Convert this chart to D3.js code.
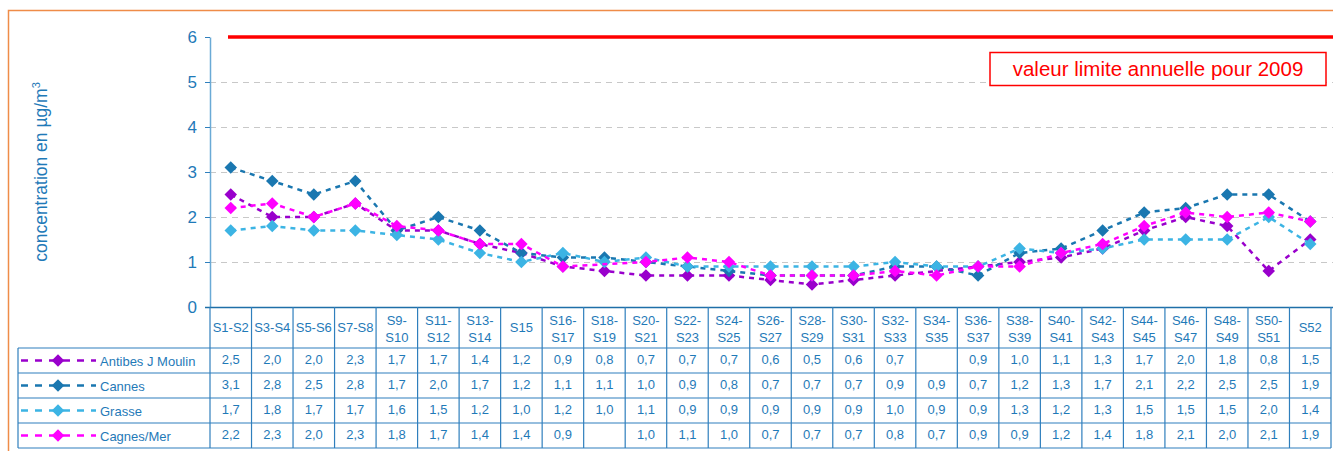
<!DOCTYPE html>
<html>
<head>
<meta charset="utf-8">
<script src="https://cdn.jsdelivr.net/npm/d3@7"></script>
<style>
  body { margin: 0; background: #fff; }
  svg { font-family: "Liberation Sans", Arial, sans-serif; }
</style>
</head>
<body>
<div id="chart"></div>
<script>

const periods = ["S1-S2","S3-S4","S5-S6","S7-S8","S9-S10","S11-S12","S13-S14","S15","S16-S17","S18-S19",
	"S20-S21","S22-S23","S24-S25","S26-S27","S28-S29","S30-S31","S32-S33","S34-S35","S36-S37","S38-S39",
	"S40-S41","S42-S43","S44-S45","S46-S47","S48-S49","S50-S51","S52"];

const antibes = [2.5,2.0,2.0,2.3,1.7,1.7,1.4,1.2,0.9,0.8,0.7,0.7,0.7,0.6,0.5,0.6,0.7,null,0.9,1.0,1.1,1.3,1.7,2.0,1.8,0.8,1.5];
const cannes  = [3.1,2.8,2.5,2.8,1.7,2.0,1.7,1.2,1.1,1.1,1.0,0.9,0.8,0.7,0.7,0.7,0.9,0.9,0.7,1.2,1.3,1.7,2.1,2.2,2.5,2.5,1.9];
const grasse  = [1.7,1.8,1.7,1.7,1.6,1.5,1.2,1.0,1.2,1.0,1.1,0.9,0.9,0.9,0.9,0.9,1.0,0.9,0.9,1.3,1.2,1.3,1.5,1.5,1.5,2.0,1.4];
const cagnes  = [2.2,2.3,2.0,2.3,1.8,1.7,1.4,1.4,0.9,null,1.0,1.1,1.0,0.7,0.7,0.7,0.8,0.7,0.9,0.9,1.2,1.4,1.8,2.1,2.0,2.1,1.9];

const seriesNames = ["Antibes J Moulin","Cannes","Grasse","Cagnes/Mer"];
const seriesColors = ["#9900cc","#1a77b0","#3cb4e4","#ff00ff"];
const yTicks = [0,1,2,3,4,5,6];
const limitValue = 6;
const limitLabel = "valeur limite annuelle pour 2009";

const series = [antibes, cannes, grasse, cagnes].map((v,i) => ({
	name: seriesNames[i], color: seriesColors[i], values: v
}));

const W = 1333, H = 451;
const m = {t:37, r:2, b:144, l:210};
const tableColor = "#2f7fbd";
const textColor = "#1f7ab8";

const svg = d3.select("#chart").append("svg")
	.attr("width", W)
	.attr("height", H);

// frame
svg.append("rect")
	.attr("x", 8.5).attr("y", 10.5)
	.attr("width", W + 20).attr("height", H + 20)
	.attr("fill", "none")
	.attr("stroke", "#ef8c48")
	.attr("stroke-width", 1.5);

const x = d3.scaleBand()
	.domain(periods)
	.range([m.l, W - m.r]);

const y = d3.scaleLinear()
	.domain([0,6])
	.range([H - m.b, m.t]);

// grid
svg.append("g")
	.selectAll("line")
	.data(yTicks.filter(d => d > 0 && d < 6))
	.join("line")
	.attr("x1", m.l).attr("x2", W)
	.attr("y1", d => y(d) + 0.5).attr("y2", d => y(d) + 0.5)
	.attr("stroke", "#c8c8c8")
	.attr("stroke-dasharray", "6,5");

// y axis
const yAxis = svg.append("g")
	.attr("transform", `translate(${m.l},0)`)
	.call(d3.axisLeft(y).tickValues(yTicks).tickFormat(d3.format("d")).tickSize(5).tickSizeOuter(0));
yAxis.select(".domain").attr("stroke", "#6aaad6").attr("stroke-width", 1.5);
yAxis.selectAll(".tick line").attr("stroke", "#2f7fbd");
yAxis.selectAll(".tick text")
	.attr("fill", textColor)
	.attr("font-size", 17)
	.attr("x", -13);

// y label
const yl = svg.append("text")
	.attr("transform", `translate(47,${(m.t + H - m.b) / 2}) rotate(-90)`)
	.attr("text-anchor", "middle")
	.attr("fill", textColor)
	.attr("font-size", 17.5);
yl.append("tspan").text("concentration en µg/m");
yl.append("tspan").text("3").attr("font-size", 11).attr("dy", -7);

// limit line
svg.append("line")
	.attr("x1", m.l + 18).attr("x2", W)
	.attr("y1", y(limitValue)).attr("y2", y(limitValue))
	.attr("stroke", "#ff0000")
	.attr("stroke-width", 3.5);

svg.append("rect")
	.attr("x", 990).attr("y", 52.5)
	.attr("width", 336).attr("height", 33)
	.attr("fill", "#fff")
	.attr("stroke", "#ff0000")
	.attr("stroke-width", 1.5);
svg.append("text")
	.attr("x", 1158).attr("y", 76)
	.attr("text-anchor", "middle")
	.attr("fill", "#ff0000")
	.attr("font-size", 20.5)
	.text(limitLabel);

// series
const cx = d => x(d) + x.bandwidth() / 2;
const line = d3.line()
	.x(d => cx(d.p))
	.y(d => y(d.v));

const diamond = d3.symbol().type(d3.symbolDiamond2).size(100);

series.forEach(s => {
	const pts = s.values.map((v,i) => ({p: periods[i], v: v}));
	const def = pts.filter(d => d.v != null);
	svg.append("path")
		.datum(def)
		.attr("d", line)
		.attr("fill", "none")
		.attr("stroke", s.color)
		.attr("stroke-width", 2.5)
		.attr("stroke-dasharray", "5,5");
	svg.append("g")
		.selectAll("path")
		.data(def)
		.join("path")
		.attr("d", diamond)
		.attr("transform", d => `translate(${cx(d.p)},${y(d.v)})`)
		.attr("fill", s.color);
});

// x axis line
svg.append("line")
	.attr("x1", m.l - 5).attr("x2", W)
	.attr("y1", y(0) + 0.5).attr("y2", y(0) + 0.5)
	.attr("stroke", "#1f6fa8")
	.attr("stroke-width", 1.5);

// data table
const tTop = y(0);
const headH = 41;
const rowH = 25;
const legendX = 18;
const tBottom = tTop + headH + rowH * series.length;

const table = svg.append("g");

// vertical lines
table.selectAll("line.v")
	.data(periods.concat(["end"]))
	.join("line")
	.attr("class", "v")
	.attr("x1", d => d === "end" ? W - m.r : x(d))
	.attr("x2", d => d === "end" ? W - m.r : x(d))
	.attr("y1", tTop).attr("y2", tBottom)
	.attr("stroke", tableColor)
	.attr("stroke-width", 1.2);

table.append("line")
	.attr("x1", legendX).attr("x2", legendX)
	.attr("y1", tTop + headH).attr("y2", tBottom)
	.attr("stroke", tableColor).attr("stroke-width", 1.2);

// horizontal lines
table.selectAll("line.h")
	.data(d3.range(series.length + 1))
	.join("line")
	.attr("class", "h")
	.attr("x1", legendX).attr("x2", W - m.r)
	.attr("y1", i => tTop + headH + i * rowH)
	.attr("y2", i => tTop + headH + i * rowH)
	.attr("stroke", tableColor)
	.attr("stroke-width", 1.2);

// header labels
periods.forEach(p => {
	const g = table.append("text")
		.attr("text-anchor", "middle")
		.attr("fill", textColor)
		.attr("font-size", 13);
	if (p.length > 5) {
		const parts = p.split("-");
		g.append("tspan").attr("x", cx(p)).attr("y", tTop + 18).text(parts[0] + "-");
		g.append("tspan").attr("x", cx(p)).attr("y", tTop + 35).text(parts[1]);
	} else {
		g.append("tspan").attr("x", cx(p)).attr("y", tTop + 25).text(p);
	}
});

// rows
series.forEach((s,r) => {
	const rowY = tTop + headH + r * rowH;
	const midY = rowY + rowH / 2;
	table.append("line")
		.attr("x1", legendX + 3).attr("x2", legendX + 78)
		.attr("y1", midY).attr("y2", midY)
		.attr("stroke", s.color)
		.attr("stroke-width", 2.5)
		.attr("stroke-dasharray", "7,7");
	table.append("path")
		.attr("d", diamond)
		.attr("transform", `translate(${legendX + 40},${midY})`)
		.attr("fill", s.color);
	table.append("text")
		.attr("x", legendX + 82).attr("y", midY + 5)
		.attr("fill", textColor)
		.attr("font-size", 13)
		.text(s.name);
	table.append("g")
		.selectAll("text")
		.data(s.values.map((v,i) => ({p: periods[i], v: v})).filter(d => d.v != null))
		.join("text")
		.attr("x", d => cx(d.p))
		.attr("y", midY + 3)
		.attr("text-anchor", "middle")
		.attr("fill", textColor)
		.attr("font-size", 13)
		.text(d => d3.format(".1f")(d.v).replace(".", ","));
});

</script>
</body>
</html>
